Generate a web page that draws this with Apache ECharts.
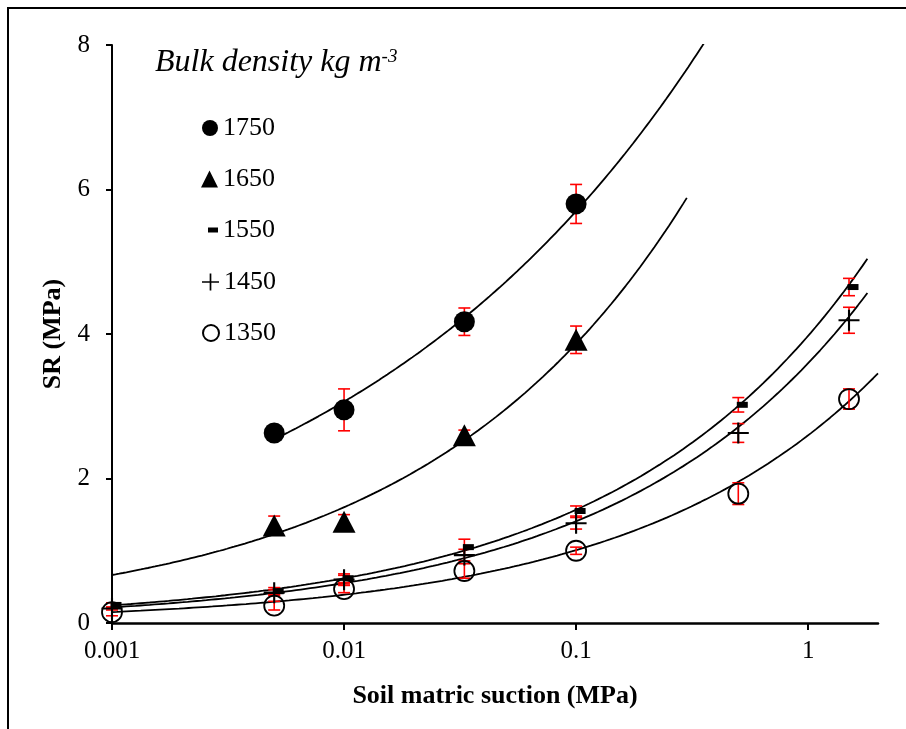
<!DOCTYPE html>
<html>
<head>
<meta charset="utf-8">
<script src="https://cdn.jsdelivr.net/npm/echarts@6/dist/echarts.min.js"></script>
<style>
  html, body { margin: 0; padding: 0; background: #fff; }
  #chart { width: 906px; height: 729px; }
</style>
</head>
<body>
<div id="chart"></div>
<script>
// Soil matric suction (MPa) at which resistance was measured
const suction = [0.001, 0.005, 0.01, 0.033, 0.1, 0.5, 1.5];

// Penetration resistance SR (MPa) per bulk density, and its error (± MPa)
const sr1750  = [null, 2.63, 2.95, 4.17, 5.80, null, null];
const err1750 = [null, 0.06, 0.29, 0.19, 0.27, null, null];
const sr1650  = [null, 1.35, 1.40, 2.60, 3.92, null, null];
const err1650 = [null, 0.13, 0.10, 0.07, 0.19, null, null];
const sr1550  = [0.25, 0.44, 0.62, 1.05, 1.55, 3.02, 4.65];
const err1550 = [0.03, 0.05, 0.06, 0.11, 0.07, 0.10, 0.12];
const sr1450  = [0.20, 0.42, 0.60, 0.94, 1.38, 2.63, 4.19];
const err1450 = [0.02, 0.04, 0.06, 0.08, 0.08, 0.13, 0.18];
const sr1350  = [0.15, 0.24, 0.47, 0.72, 1.00, 1.79, 3.10];
const err1350 = [0.05, 0.06, 0.05, 0.10, 0.05, 0.15, 0.14];

// Extent of each power-law trend line (MPa suction)
const fit1750 = [0.005, 0.4];
const fit1650 = [0.001, 0.3];
const fit1550 = [0.001, 1.8];
const fit1450 = [0.001, 1.8];
const fit1350 = [0.001, 2.0];

// Axis ticks
const xTicks = [0.001, 0.01, 0.1, 1];
const xTickLabels = ['0.001', '0.01', '0.1', '1'];
const yTicks = [0, 2, 4, 6, 8];

const FONT = '"Liberation Serif", "Times New Roman", serif';
const PLUS = 'path://M9,0H11V9H20V11H11V20H9V11H0V9H9Z';

const groups = [
  { name: '1750', sr: sr1750, err: err1750, fit: fit1750,
    symbol: 'circle', size: 21, offset: [0, 0],
    itemStyle: { color: '#000', opacity: 1 },
    legend: { left: 202, row: 128, w: 16, h: 16 } },
  { name: '1650', sr: sr1650, err: err1650, fit: fit1650,
    symbol: 'triangle', size: [23, 22], offset: [0, 0],
    itemStyle: { color: '#000', opacity: 1 },
    legend: { left: 201, row: 179, w: 17, h: 17 } },
  { name: '1550', sr: sr1550, err: err1550, fit: fit1550,
    symbol: 'rect', size: [11, 6], offset: [4, 0],
    itemStyle: { color: '#000', opacity: 1 },
    legend: { left: 208, row: 230, w: 10, h: 5 } },
  { name: '1450', sr: sr1450, err: err1450, fit: fit1450,
    symbol: PLUS, size: 21, offset: [0, 0],
    itemStyle: { color: '#000', opacity: 1 },
    legend: { left: 202, row: 282, w: 17, h: 17 } },
  { name: '1350', sr: sr1350, err: err1350, fit: fit1350,
    symbol: 'circle', size: 20, offset: [0, 0],
    itemStyle: { color: 'rgba(0,0,0,0)', borderColor: '#000', borderWidth: 1.8, opacity: 1 },
    legend: { left: 202, row: 333, w: 16, h: 16 } }
];

// Least-squares power fit y = a·x^b (linear regression in log–log space)
function powerFit(xs, ys) {
  const px = [], py = [];
  xs.forEach((x, i) => { if (ys[i] != null) { px.push(Math.log(x)); py.push(Math.log(ys[i])); } });
  const n = px.length;
  const mx = px.reduce((s, v) => s + v, 0) / n;
  const my = py.reduce((s, v) => s + v, 0) / n;
  let sxy = 0, sxx = 0;
  for (let i = 0; i < n; i++) { sxy += (px[i] - mx) * (py[i] - my); sxx += (px[i] - mx) ** 2; }
  const b = sxy / sxx;
  const a = Math.exp(my - b * mx);
  return { a, b };
}

function trendPoints(g) {
  const { a, b } = powerFit(suction, g.sr);
  const l0 = Math.log10(g.fit[0]), l1 = Math.log10(g.fit[1]);
  const steps = 160, pts = [];
  for (let i = 0; i <= steps; i++) {
    const x = Math.pow(10, l0 + (l1 - l0) * i / steps);
    pts.push([x, a * Math.pow(x, b)]);
  }
  return pts;
}

function errorBars(g) {
  const data = [];
  suction.forEach((x, i) => {
    if (g.sr[i] != null) data.push([x, g.sr[i] - g.err[i], g.sr[i] + g.err[i]]);
  });
  return {
    type: 'custom',
    name: g.name + ' error',
    data,
    encode: { x: 0, y: [1, 2] },
    z: 3,
    silent: true,
    renderItem: (params, api) => {
      const lo = api.coord([api.value(0), api.value(1)]);
      const hi = api.coord([api.value(0), api.value(2)]);
      const w = 6;
      const st = { stroke: '#ff0000', lineWidth: 1.6 };
      return {
        type: 'group',
        children: [
          { type: 'line', shape: { x1: hi[0], y1: hi[1], x2: lo[0], y2: lo[1] }, style: st },
          { type: 'line', shape: { x1: hi[0] - w, y1: hi[1], x2: hi[0] + w, y2: hi[1] }, style: st },
          { type: 'line', shape: { x1: lo[0] - w, y1: lo[1], x2: lo[0] + w, y2: lo[1] }, style: st }
        ]
      };
    }
  };
}

const series = [];
groups.forEach(g => {
  series.push({
    type: 'line',
    name: g.name + ' fit',
    data: trendPoints(g),
    showSymbol: false,
    symbol: 'none',
    silent: true,
    clip: true,
    z: 2,
    lineStyle: { color: '#000', width: 1.8 }
  });
});
groups.forEach(g => series.push(errorBars(g)));
groups.forEach(g => {
  series.push({
    type: 'scatter',
    name: g.name,
    data: suction.map((x, i) => g.sr[i] == null ? null : [x, g.sr[i]]).filter(Boolean),
    symbol: g.symbol,
    symbolSize: g.size,
    symbolOffset: g.offset,
    itemStyle: g.itemStyle,
    emphasis: { disabled: true },
    z: 4
  });
});

const legends = groups.map(g => ({
  data: [g.name],
  orient: 'horizontal',
  left: g.legend.left,
  top: g.legend.row - 13,
  itemWidth: g.legend.w,
  itemHeight: g.legend.h,
  padding: 0,
  selectedMode: false,
  textStyle: { fontFamily: FONT, fontSize: 26, color: '#000' }
}));

const chart = echarts.init(document.getElementById('chart'), null, { renderer: 'canvas' });
chart.setOption({
  animation: false,
  backgroundColor: '#fff',
  title: {
    text: '{t|Bulk density kg m}{s|-3}',
    left: 155,
    top: 47,
    padding: 0,
    textStyle: {
      fontWeight: 'normal',
      rich: {
        t: { fontFamily: FONT, fontStyle: 'italic', fontWeight: 'normal', fontSize: 32, color: '#000' },
        s: { fontFamily: FONT, fontStyle: 'italic', fontWeight: 'normal', fontSize: 19, color: '#000', verticalAlign: 'top' }
      }
    }
  },
  legend: legends,
  grid: { left: 112, right: 28, top: 45, bottom: 106, containLabel: false, outerBoundsMode: 'none' },
  xAxis: {
    type: 'log',
    logBase: 10,
    min: 0.001,
    max: 2,
    name: 'Soil matric suction (MPa)',
    nameLocation: 'middle',
    nameGap: 60,
    nameTextStyle: { fontFamily: FONT, fontSize: 26, fontWeight: 'bold', color: '#000' },
    axisLine: { show: true, lineStyle: { color: '#000', width: 2.5 } },
    axisTick: { show: true, inside: false, length: 7, customValues: xTicks, lineStyle: { color: '#000', width: 2 } },
    axisLabel: {
      customValues: xTicks,
      margin: 16,
      fontFamily: FONT, fontSize: 25, color: '#000',
      formatter: v => {
        const i = xTicks.findIndex(t => Math.abs(Math.log10(t) - Math.log10(v)) < 1e-6);
        return i >= 0 ? xTickLabels[i] : '';
      }
    },
    splitLine: { show: false },
    minorTick: { show: false }
  },
  yAxis: {
    type: 'value',
    min: yTicks[0],
    max: yTicks[yTicks.length - 1],
    interval: 2,
    name: 'SR (MPa)',
    nameLocation: 'middle',
    nameGap: 41,
    nameTextStyle: { fontFamily: FONT, fontSize: 26, fontWeight: 'bold', color: '#000' },
    axisLine: { show: true, lineStyle: { color: '#000', width: 2 } },
    axisTick: { show: true, inside: false, length: 6, lineStyle: { color: '#000', width: 2 } },
    axisLabel: { margin: 22, fontFamily: FONT, fontSize: 25, color: '#000' },
    splitLine: { show: false }
  },
  graphic: [{
    type: 'rect',
    silent: true,
    shape: { x: 8, y: 8, width: 2000, height: 2000 },
    style: { fill: 'none', stroke: '#000', lineWidth: 2 },
    z: 0
  }],
  series
});
</script>
</body>
</html>
